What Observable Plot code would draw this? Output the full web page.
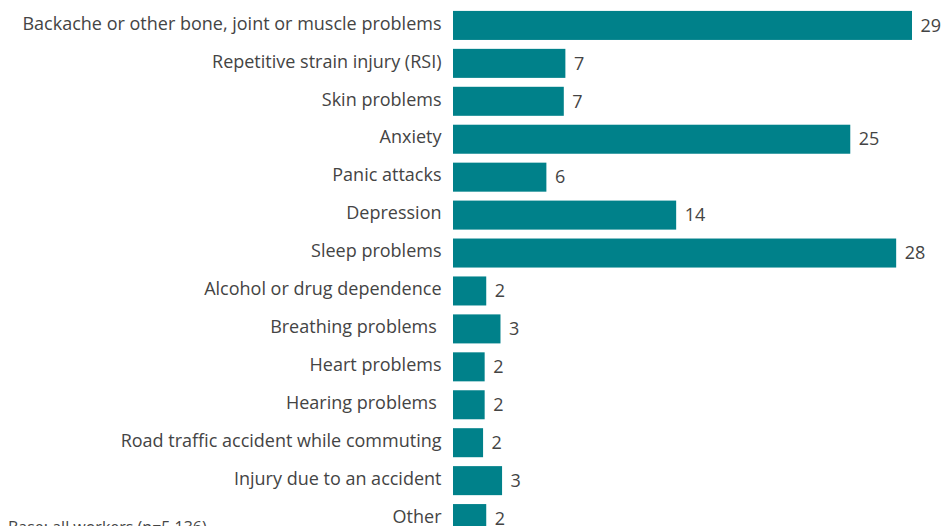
<!DOCTYPE html>
<html>
<head>
<meta charset="utf-8">
<script src="https://cdn.jsdelivr.net/npm/d3@7"></script>
<script src="https://cdn.jsdelivr.net/npm/@observablehq/plot@0.6"></script>
<style>
  html, body { margin: 0; padding: 0; background: #fff; overflow: hidden; }
  #wrap { position: relative; width: 941px; }
  #base { position: absolute; left: 8px; top: 516px; font-family: "Open Sans", sans-serif; font-size: 16px; line-height: 22px; color: #444; }
</style>
</head>
<body>
<div id="wrap">
  <div id="chart"></div>
  <div id="base">Base: all workers (n=5,136)</div>
</div>
<script>
const categories = [
  "Backache or other bone, joint or muscle problems",
  "Repetitive strain injury (RSI)",
  "Skin problems",
  "Anxiety",
  "Panic attacks",
  "Depression",
  "Sleep problems",
  "Alcohol or drug dependence",
  "Breathing problems\u00a0",
  "Heart problems",
  "Hearing problems\u00a0",
  "Road traffic accident while commuting",
  "Injury due to an accident",
  "Other"
];
const values = [29.0, 7.1, 7.0, 25.1, 5.9, 14.1, 28.0, 2.1, 3.0, 2.0, 2.0, 1.9, 3.1, 2.1];
const labels = ["29", "7", "7", "25", "6", "14", "28", "2", "3", "2", "2", "2", "3", "2"];

const data = categories.map((c, i) => ({category: c, value: values[i], label: labels[i]}));

const chart = Plot.plot({
  width: 941,
  height: 560,
  marginLeft: 453,
  marginRight: 29,
  marginTop: 2,
  marginBottom: 18,
  style: {fontFamily: "'Open Sans', sans-serif", color: "#444", background: "#fff", overflow: "visible"},
  x: {domain: [0, 29], axis: null},
  y: {domain: categories, padding: 0.235, round: false, label: null},
  marks: [
    Plot.barX(data, {x: "value", y: "category", fill: "#00818A"}),
    Plot.text(data, {x: "value", y: "category", text: "label", textAnchor: "start", dx: 8, dy: 0, fontSize: 18, fill: "#444"}),
    Plot.axisY({tickSize: 0, tickPadding: 12, fontSize: 18, dy: -2, fill: "#444", label: null, style: {letterSpacing: "0.4px"}})
  ]
});
document.getElementById("chart").appendChild(chart);
</script>
</body>
</html>
